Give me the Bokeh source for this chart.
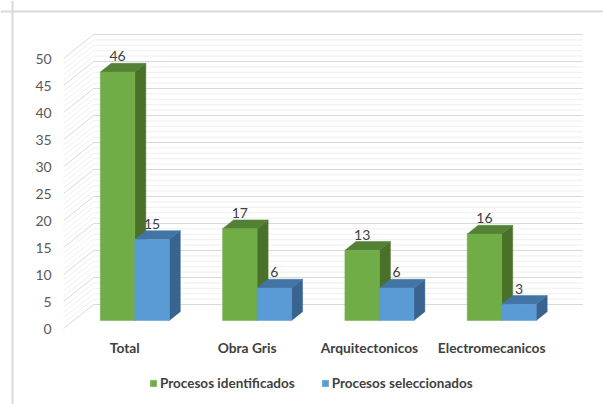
from bokeh.plotting import figure
from bokeh.models import Range1d, ColumnDataSource, Legend, LegendItem, Span
from bokeh.embed import file_html
from bokeh.resources import INLINE
from bokeh.core.properties import value

# ---------------- data ----------------
categories = ["Total", "Obra Gris", "Arquitectonicos", "Electromecanicos"]
identificados = [46, 17, 13, 16]
seleccionados = [15, 6, 6, 3]
series_names = ["Procesos identificados", "Procesos seleccionados"]
y_ticks = [0, 5, 10, 15, 20, 25, 30, 35, 40, 45, 50]
y_minor = list(range(0, 51))

# ---------------- geometry / style ----------------
W, H = 603, 404
PX_X = 122.3      # pixels per category
X0 = 124.3        # pixel of category 0 (front plane)
PX_Y = 5.4        # pixels per unit
Y0 = 328.0        # pixel of value 0 (front plane)
DX = 30.0 / PX_X  # full depth offset, x
DY = 24.0 / PX_Y  # full depth offset, y
D0, D1 = 1.0 / 3.0, 0.70   # bar depth span
BW = 0.282                 # bar width (category units)
WALL_L, WALL_R = -0.5, len(categories) - 0.5
FONT = "Lato"

GREEN = ("#70ad47", "#538135", "#4a7129")   # front, top, side
BLUE = ("#5b9bd5", "#4275a5", "#39648f")

p = figure(width=W, height=H, output_backend="svg", toolbar_location=None,
           x_range=Range1d(-X0 / PX_X, (W - X0) / PX_X),
           y_range=Range1d(-(H - Y0) / PX_Y, Y0 / PX_Y),
           min_border=0, min_border_left=0, min_border_right=0,
           min_border_top=0, min_border_bottom=0)
p.axis.visible = False
p.grid.visible = False
p.outline_line_color = None
p.background_fill_color = "white"
p.border_fill_color = "white"

# chart-area border (left and top)
p.add_layout(Span(location=-X0 / PX_X + 12 / PX_X, dimension="height",
                  line_color="#d9d9d9", line_width=2))
p.add_layout(Span(location=(Y0 - 11) / PX_Y, dimension="width",
                  line_color="#d9d9d9", line_width=2))

# walls: gridlines (minor then major)
for kind in ("minor", "major"):
    vals = [v for v in y_minor if (v % 5 == 0) == (kind == "major")]
    col = "#d9d9d9" if kind == "major" else "#efefef"
    # back wall
    p.segment(x0=[WALL_L + DX] * len(vals), y0=[v + DY for v in vals],
              x1=[WALL_R + DX] * len(vals), y1=[v + DY for v in vals],
              line_color=col, line_width=1)
    # side wall
    p.segment(x0=[WALL_L] * len(vals), y0=vals,
              x1=[WALL_L + DX] * len(vals), y1=[v + DY for v in vals],
              line_color=col, line_width=1)

# bars
front_renderers = []
for s, (vals, cols) in enumerate([(identificados, GREEN), (seleccionados, BLUE)]):
    lefts = [i - BW + s * BW for i in range(len(categories))]
    rights = [l + BW for l in lefts]
    side_xs, side_ys, top_xs, top_ys = [], [], [], []
    for l, r, v in zip(lefts, rights, vals):
        side_xs.append([r + D0 * DX, r + D1 * DX, r + D1 * DX, r + D0 * DX])
        side_ys.append([D0 * DY, D1 * DY, v + D1 * DY, v + D0 * DY])
        top_xs.append([l + D0 * DX, r + D0 * DX, r + D1 * DX, l + D1 * DX])
        top_ys.append([v + D0 * DY, v + D0 * DY, v + D1 * DY, v + D1 * DY])
    p.patches(side_xs, side_ys, fill_color=cols[2], line_color=cols[2], line_width=0.5)
    p.patches(top_xs, top_ys, fill_color=cols[1], line_color=cols[1], line_width=0.5)
    fr = p.quad(left=[l + D0 * DX for l in lefts], right=[r + D0 * DX for r in rights],
                bottom=[D0 * DY] * len(vals), top=[v + D0 * DY for v in vals],
                fill_color=cols[0], line_color=cols[0], line_width=0.5)
    front_renderers.append(fr)
    # value labels
    p.text(x=[(l + r) / 2 + D0 * DX for l, r in zip(lefts, rights)],
           y=[v + D1 * DY + 7 / PX_Y for v in vals], text=[str(v) for v in vals],
           text_align="center", text_baseline="middle",
           text_font=value(FONT), text_font_size="14px", text_color="#404040")

# y tick labels
p.text(x=[WALL_L - 12 / PX_X] * len(y_ticks), y=y_ticks, text=[str(t) for t in y_ticks],
       text_align="right", text_baseline="middle",
       text_font=value(FONT), text_font_size="14px", text_color="#595959")

# category labels
p.text(x=list(range(len(categories))), y=[-19 / PX_Y] * len(categories), text=categories,
       text_align="center", text_baseline="middle",
       text_font=value(FONT), text_font_style="bold",
       text_font_size="13.8px", text_color="#404040")

# legend
legend = Legend(items=[LegendItem(label=series_names[0], renderers=[front_renderers[0]]),
                       LegendItem(label=series_names[1], renderers=[front_renderers[1]])],
                orientation="horizontal", location=(149, 13),
                glyph_width=8, glyph_height=8, label_height=8, label_standoff=3,
                spacing=26, padding=0, margin=0,
                border_line_color=None, background_fill_alpha=0,
                label_text_font=FONT, label_text_font_style="bold",
                label_text_font_size="13.5px", label_text_color="#404040")
p.add_layout(legend)

open("out.html", "w").write(file_html(p, INLINE))
